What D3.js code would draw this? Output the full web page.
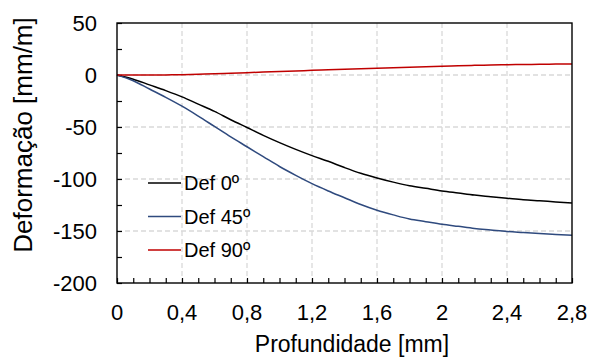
<!DOCTYPE html>
<html><head><meta charset="utf-8">
<script src="https://cdn.jsdelivr.net/npm/d3@7"></script>
<style>body{margin:0;background:#fff}svg{display:block}text{font-family:Arial,"Liberation Sans",sans-serif;fill:#000}</style>
</head><body><svg id="c" width="592" height="360"></svg>
<script>
const depth = [0,0.1,0.2,0.3,0.4,0.5,0.6,0.7,0.8,0.9,1.0,1.1,1.2,1.3,1.4,1.5,1.6,1.7,1.8,1.9,2.0,2.1,2.2,2.3,2.4,2.5,2.6,2.7,2.8];
const def0 = [0,-4,-9.5,-15,-21,-28,-35,-43,-50.5,-58,-65,-71.5,-77.5,-83,-89,-94.5,-99,-103,-106.5,-109,-111.5,-113.5,-115.5,-117,-118.5,-120,-121,-122,-123];
const def45 = [0,-5.5,-13.5,-21.5,-30,-39.5,-49.5,-59.5,-69,-78.5,-88,-96.5,-104.5,-111.5,-118,-124.5,-130,-134.5,-138.5,-141,-143.5,-145.5,-147.5,-149,-150.5,-151.5,-152.5,-153.3,-154];
const def90 = [0,0,0,0.1,0.3,0.7,1.1,1.7,2.2,2.8,3.4,3.9,4.5,5.0,5.5,6.0,6.5,7.0,7.5,8.0,8.5,8.9,9.3,9.6,9.9,10.1,10.3,10.5,10.6];
const seriesNames = ["Def 0º","Def 45º","Def 90º"];
const seriesColors = ["#000000","#2F4A7E","#C00000"];
const xTicks = [0,0.4,0.8,1.2,1.6,2.0,2.4,2.8];
const yTicks = [50,0,-50,-100,-150,-200];
const xTitle = "Profundidade [mm]";
const yTitle = "Deformação [mm/m]";

const svg = d3.select("#c");
const L=117, R=572, T=23, B=283;
const x = d3.scaleLinear().domain([0,2.8]).range([L,R]);
const y = d3.scaleLinear().domain([-200,50]).range([B,T]);
const fmt = d => String(+d.toFixed(1)).replace(".", ",");

// grid
const g = svg.append("g");
g.selectAll(".gx").data(xTicks.filter(d=>d>0&&d<2.8)).join("line")
  .attr("x1",d=>x(d)).attr("x2",d=>x(d)).attr("y1",T).attr("y2",B)
  .attr("stroke","#d9d9d9").attr("stroke-width",1.3).attr("stroke-dasharray","5,3");
g.selectAll(".gy").data(yTicks.filter(d=>d<50&&d>-200)).join("line")
  .attr("y1",d=>y(d)).attr("y2",d=>y(d)).attr("x1",L).attr("x2",R)
  .attr("stroke","#d9d9d9").attr("stroke-width",1.3).attr("stroke-dasharray","5,3");

// axes with inward ticks
const xMinor = d3.range(0,29).map(i=>i/10);
svg.append("g").attr("transform",`translate(0,${B})`)
  .call(d3.axisBottom(x).tickValues(xMinor).tickSize(-5).tickFormat(""))
  .call(a=>a.select(".domain").remove())
  .call(a=>a.selectAll("line").attr("stroke","#000").attr("stroke-width",1.2));
const yMinor = d3.range(-200,51,25);
svg.append("g").attr("transform",`translate(${L},0)`)
  .call(d3.axisLeft(y).tickValues(yMinor).tickSize(-5).tickFormat(""))
  .call(a=>a.select(".domain").remove())
  .call(a=>a.selectAll("line").attr("stroke","#000").attr("stroke-width",1.2));

// tick labels
svg.append("g").selectAll("text").data(xTicks).join("text")
  .attr("x",d=>x(d)).attr("y",B+37).attr("text-anchor","middle")
  .style("font-size","22px").text(fmt);
svg.append("g").selectAll("text").data(yTicks).join("text")
  .attr("x",L-20).attr("y",d=>y(d)+8).attr("text-anchor","end")
  .style("font-size","22px").text(d=>d);

// lines
const lineGen = vals => d3.line().x((d,i)=>x(depth[i])).y(d=>y(d)).curve(d3.curveMonotoneX)(vals);
[def0,def45,def90].forEach((vals,k)=>{
  svg.append("path").attr("d",lineGen(vals)).attr("fill","none")
    .attr("stroke",seriesColors[k]).attr("stroke-width",1.5);
});

// frame
svg.append("rect").attr("x",L).attr("y",T).attr("width",R-L).attr("height",B-T)
  .attr("fill","none").attr("stroke","#000").attr("stroke-width",1.4);

// titles
svg.append("text").attr("x",352).attr("y",352).attr("text-anchor","middle")
  .style("font-size","23px").text(xTitle);
svg.append("text").attr("transform",`translate(32,135) rotate(-90)`).attr("text-anchor","middle")
  .style("font-size","26px").text(yTitle);

// legend
const lg = svg.append("g");
seriesNames.forEach((n,i)=>{
  const yy = 183 + i*33.5;
  lg.append("line").attr("x1",148).attr("x2",181).attr("y1",yy).attr("y2",yy)
    .attr("stroke",seriesColors[i]).attr("stroke-width",1.5);
  lg.append("text").attr("x",184).attr("y",yy+7).style("font-size","20px").text(n);
});
</script></body></html>
